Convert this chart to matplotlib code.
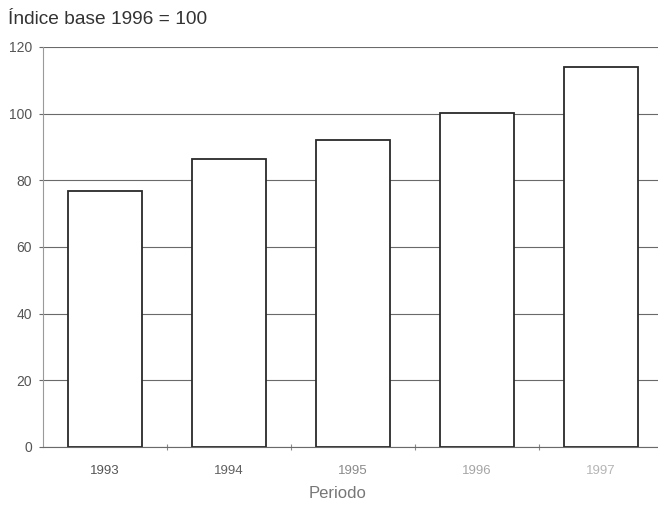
import matplotlib
matplotlib.use('Agg')
import matplotlib.pyplot as plt

plt.rcParams['font.family'] = ['Liberation Sans', 'DejaVu Sans']

years = ['1993', '1994', '1995', '1996', '1997']
indice = [76.7, 86.4, 92.2, 100.2, 114.0]
yticks = [0, 20, 40, 60, 80, 100, 120]

fig = plt.figure(figsize=(6.58, 5.05), dpi=100)
ax = fig.add_axes([43 / 658, 58 / 505, 620 / 658, 400 / 505])

# gridlines behind the bars
ax.set_axisbelow(True)
ax.yaxis.grid(True, color='#6a6a6a', linewidth=0.8)

x = list(range(len(years)))
ax.bar(x, indice, width=0.59, color='white', edgecolor='#2a2a2a', linewidth=1.3, zorder=3)

ax.set_xlim(-0.5, len(years) - 0.5)
ax.set_ylim(0, 120)
ax.set_yticks(yticks)
ax.set_xticks(x)
ax.set_xticklabels(years)
# small marks between categories
ax.set_xticks([i + 0.5 for i in x[:-1]], minor=True)

for side in ['top', 'right']:
    ax.spines[side].set_visible(False)
ax.spines['left'].set_color('#9a9a9a')
ax.spines['left'].set_linewidth(0.8)
ax.spines['bottom'].set_color('#6a6a6a')
ax.spines['bottom'].set_linewidth(0.8)

ax.tick_params(axis='y', length=3, width=0.8, color='#6a6a6a', pad=5,
               labelsize=10, labelcolor='#555555')
ax.tick_params(axis='x', which='major', length=0, pad=13, labelsize=9.5)
ax.tick_params(axis='x', which='minor', length=4, width=0.8, direction='inout',
               color='#8a8a8a')

# later labels are fainter in the scan
fades = ['#555555', '#606060', '#8a8a8a', '#a5a5a5', '#b5b5b5']
for lab, c in zip(ax.get_xticklabels(), fades):
    lab.set_color(c)

ax.set_xlabel('Periodo', fontsize=12, color='#777777', va='center')
ax.xaxis.set_label_coords((338 - 43) / 620, -(493 - 447) / 400)

fig.text(8 / 658, 1 - 19 / 505, 'Índice base 1996 = 100', fontsize=13.8,
         color='#333333', va='center', ha='left')

fig.savefig('out.png', dpi=100)
